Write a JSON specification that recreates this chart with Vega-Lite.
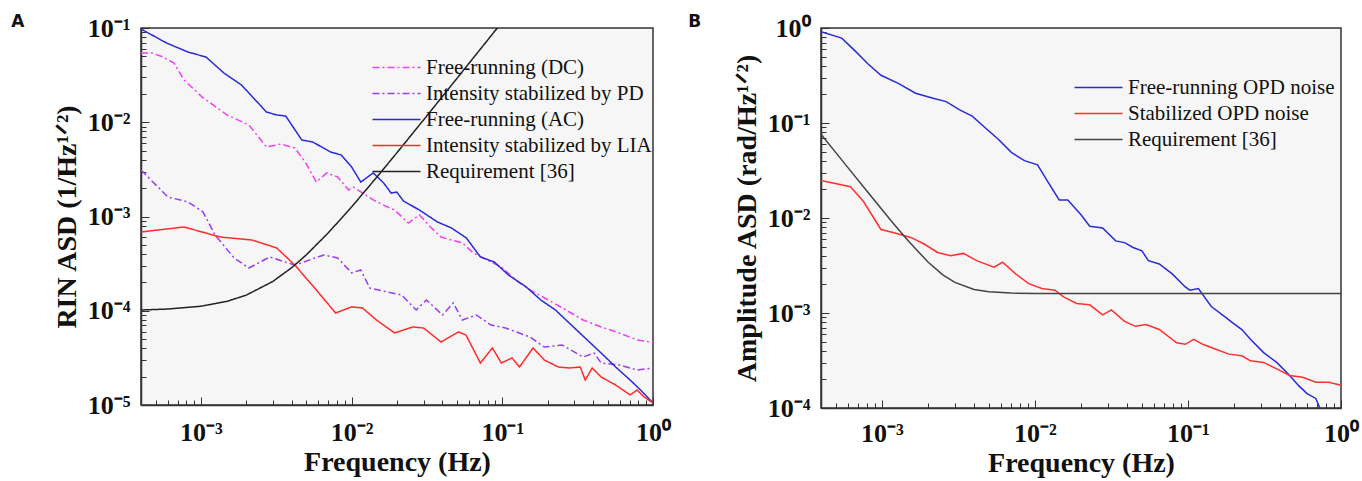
{
  "$schema": "https://vega.github.io/schema/vega-lite/v6.json",
  "background": "white",
  "padding": {"left": 10, "top": 12, "right": 4, "bottom": 0},
  "spacing": 15,
  "config": {
    "view": {"stroke": "#333333", "strokeWidth": 1.5, "fill": "#f6f6f6"},
    "axis": {
      "grid": false,
      "domainColor": "#333333",
      "domainWidth": 1.5,
      "tickColor": "#333333",
      "tickWidth": 1,
      "labelFont": "Liberation Serif",
      "labelFontWeight": "bold",
      "labelFontSize": 26,
      "labelColor": "#111111",
      "labelFlush": false,
      "labelOverlap": false,
      "titleFont": "Liberation Serif",
      "titleFontWeight": "bold",
      "titleFontSize": 28,
      "titleColor": "#111111"
    },
    "legend": {
      "labelFont": "Liberation Serif",
      "labelFontSize": 21,
      "labelColor": "#111111",
      "labelLimit": 400,
      "symbolType": "M-1,0H5",
      "symbolSize": 256,
      "symbolStrokeWidth": 1.6,
      "labelOffset": 35,
      "padding": 0
    },
    "title": {"font": "DejaVu Sans", "fontSize": 17, "fontWeight": "bold", "color": "#111111"}
  },
  "resolve": {"scale": {"color": "independent", "strokeDash": "independent", "x": "independent", "y": "independent"}},
  "datasets": {
    "A": [
      {"s": "Free-running (DC)", "f": 0.0004, "v": 0.0543},
      {"s": "Free-running (DC)", "f": 0.000473, "v": 0.0543},
      {"s": "Free-running (DC)", "f": 0.00056, "v": 0.0492},
      {"s": "Free-running (DC)", "f": 0.000662, "v": 0.0425},
      {"s": "Free-running (DC)", "f": 0.000771, "v": 0.0281},
      {"s": "Free-running (DC)", "f": 0.00102, "v": 0.0185},
      {"s": "Free-running (DC)", "f": 0.00149, "v": 0.01194},
      {"s": "Free-running (DC)", "f": 0.00208, "v": 0.00935},
      {"s": "Free-running (DC)", "f": 0.00272, "v": 0.00546},
      {"s": "Free-running (DC)", "f": 0.00339, "v": 0.00587},
      {"s": "Free-running (DC)", "f": 0.0042, "v": 0.00533},
      {"s": "Free-running (DC)", "f": 0.00496, "v": 0.0037},
      {"s": "Free-running (DC)", "f": 0.00583, "v": 0.00232},
      {"s": "Free-running (DC)", "f": 0.00683, "v": 0.0029},
      {"s": "Free-running (DC)", "f": 0.00807, "v": 0.00263},
      {"s": "Free-running (DC)", "f": 0.00955, "v": 0.00191},
      {"s": "Free-running (DC)", "f": 0.0103, "v": 0.00205},
      {"s": "Free-running (DC)", "f": 0.0139, "v": 0.0015},
      {"s": "Free-running (DC)", "f": 0.0163, "v": 0.00132},
      {"s": "Free-running (DC)", "f": 0.0193, "v": 0.00117},
      {"s": "Free-running (DC)", "f": 0.0238, "v": 0.000853},
      {"s": "Free-running (DC)", "f": 0.0282, "v": 0.00104},
      {"s": "Free-running (DC)", "f": 0.0333, "v": 0.000774},
      {"s": "Free-running (DC)", "f": 0.0392, "v": 0.000606},
      {"s": "Free-running (DC)", "f": 0.0459, "v": 0.000563},
      {"s": "Free-running (DC)", "f": 0.0543, "v": 0.000524},
      {"s": "Free-running (DC)", "f": 0.0643, "v": 0.00041},
      {"s": "Free-running (DC)", "f": 0.0796, "v": 0.000345},
      {"s": "Free-running (DC)", "f": 0.0985, "v": 0.000291},
      {"s": "Free-running (DC)", "f": 0.123, "v": 0.000212},
      {"s": "Free-running (DC)", "f": 0.153, "v": 0.000166},
      {"s": "Free-running (DC)", "f": 0.202, "v": 0.00013},
      {"s": "Free-running (DC)", "f": 0.264, "v": 0.000102},
      {"s": "Free-running (DC)", "f": 0.344, "v": 0.0000798},
      {"s": "Free-running (DC)", "f": 0.453, "v": 0.0000673},
      {"s": "Free-running (DC)", "f": 0.596, "v": 0.0000581},
      {"s": "Free-running (DC)", "f": 0.784, "v": 0.000049},
      {"s": "Free-running (DC)", "f": 1.0, "v": 0.000046},

      {"s": "Intensity stabilized by PD", "f": 0.0004, "v": 0.00311},
      {"s": "Intensity stabilized by PD", "f": 0.000604, "v": 0.00161},
      {"s": "Intensity stabilized by PD", "f": 0.00082, "v": 0.00143},
      {"s": "Intensity stabilized by PD", "f": 0.00103, "v": 0.00112},
      {"s": "Intensity stabilized by PD", "f": 0.00124, "v": 0.000637},
      {"s": "Intensity stabilized by PD", "f": 0.00166, "v": 0.000363},
      {"s": "Intensity stabilized by PD", "f": 0.00208, "v": 0.000284},
      {"s": "Intensity stabilized by PD", "f": 0.00286, "v": 0.000372},
      {"s": "Intensity stabilized by PD", "f": 0.0042, "v": 0.000305},
      {"s": "Intensity stabilized by PD", "f": 0.00653, "v": 0.000391},
      {"s": "Intensity stabilized by PD", "f": 0.00807, "v": 0.000363},
      {"s": "Intensity stabilized by PD", "f": 0.01, "v": 0.000252},
      {"s": "Intensity stabilized by PD", "f": 0.0115, "v": 0.000271},
      {"s": "Intensity stabilized by PD", "f": 0.0132, "v": 0.000174},
      {"s": "Intensity stabilized by PD", "f": 0.0173, "v": 0.000158},
      {"s": "Intensity stabilized by PD", "f": 0.0214, "v": 0.000147},
      {"s": "Intensity stabilized by PD", "f": 0.0268, "v": 0.000102},
      {"s": "Intensity stabilized by PD", "f": 0.0314, "v": 0.00013},
      {"s": "Intensity stabilized by PD", "f": 0.0401, "v": 0.0000902},
      {"s": "Intensity stabilized by PD", "f": 0.0473, "v": 0.000121},
      {"s": "Intensity stabilized by PD", "f": 0.0543, "v": 0.0000798},
      {"s": "Intensity stabilized by PD", "f": 0.0673, "v": 0.0000902},
      {"s": "Intensity stabilized by PD", "f": 0.0841, "v": 0.0000706},
      {"s": "Intensity stabilized by PD", "f": 0.105, "v": 0.0000656},
      {"s": "Intensity stabilized by PD", "f": 0.153, "v": 0.0000526},
      {"s": "Intensity stabilized by PD", "f": 0.19, "v": 0.0000412},
      {"s": "Intensity stabilized by PD", "f": 0.249, "v": 0.0000433},
      {"s": "Intensity stabilized by PD", "f": 0.344, "v": 0.0000323},
      {"s": "Intensity stabilized by PD", "f": 0.406, "v": 0.0000356},
      {"s": "Intensity stabilized by PD", "f": 0.453, "v": 0.0000279},
      {"s": "Intensity stabilized by PD", "f": 0.596, "v": 0.0000266},
      {"s": "Intensity stabilized by PD", "f": 0.784, "v": 0.0000235},
      {"s": "Intensity stabilized by PD", "f": 1.0, "v": 0.0000247},

      {"s": "Free-running (AC)", "f": 0.0004, "v": 0.0975},
      {"s": "Free-running (AC)", "f": 0.000591, "v": 0.0693},
      {"s": "Free-running (AC)", "f": 0.00082, "v": 0.0556},
      {"s": "Free-running (AC)", "f": 0.00108, "v": 0.0492},
      {"s": "Free-running (AC)", "f": 0.00142, "v": 0.0333},
      {"s": "Free-running (AC)", "f": 0.00186, "v": 0.0248},
      {"s": "Free-running (AC)", "f": 0.00272, "v": 0.01285},
      {"s": "Free-running (AC)", "f": 0.00318, "v": 0.01194},
      {"s": "Free-running (AC)", "f": 0.00365, "v": 0.01165},
      {"s": "Free-running (AC)", "f": 0.00467, "v": 0.00648},
      {"s": "Free-running (AC)", "f": 0.00552, "v": 0.00617},
      {"s": "Free-running (AC)", "f": 0.00726, "v": 0.00483},
      {"s": "Free-running (AC)", "f": 0.00853, "v": 0.00449},
      {"s": "Free-running (AC)", "f": 0.01, "v": 0.00335},
      {"s": "Free-running (AC)", "f": 0.0115, "v": 0.00232},
      {"s": "Free-running (AC)", "f": 0.0139, "v": 0.0029},
      {"s": "Free-running (AC)", "f": 0.0163, "v": 0.00227},
      {"s": "Free-running (AC)", "f": 0.0183, "v": 0.00177},
      {"s": "Free-running (AC)", "f": 0.0199, "v": 0.00182},
      {"s": "Free-running (AC)", "f": 0.0221, "v": 0.00146},
      {"s": "Free-running (AC)", "f": 0.0282, "v": 0.00117},
      {"s": "Free-running (AC)", "f": 0.0371, "v": 0.000875},
      {"s": "Free-running (AC)", "f": 0.046, "v": 0.000755},
      {"s": "Free-running (AC)", "f": 0.0578, "v": 0.000591},
      {"s": "Free-running (AC)", "f": 0.0715, "v": 0.000372},
      {"s": "Free-running (AC)", "f": 0.0885, "v": 0.000329},
      {"s": "Free-running (AC)", "f": 0.11, "v": 0.000239},
      {"s": "Free-running (AC)", "f": 0.144, "v": 0.000179},
      {"s": "Free-running (AC)", "f": 0.18, "v": 0.00013},
      {"s": "Free-running (AC)", "f": 0.225, "v": 0.000102},
      {"s": "Free-running (AC)", "f": 0.278, "v": 0.0000741},
      {"s": "Free-running (AC)", "f": 0.366, "v": 0.000049},
      {"s": "Free-running (AC)", "f": 0.453, "v": 0.0000356},
      {"s": "Free-running (AC)", "f": 0.565, "v": 0.0000253},
      {"s": "Free-running (AC)", "f": 0.705, "v": 0.0000184},
      {"s": "Free-running (AC)", "f": 0.828, "v": 0.0000144},
      {"s": "Free-running (AC)", "f": 1.0, "v": 0.0000105},

      {"s": "Intensity stabilized by LIA", "f": 0.0004, "v": 0.000685},
      {"s": "Intensity stabilized by LIA", "f": 0.000771, "v": 0.000774},
      {"s": "Intensity stabilized by LIA", "f": 0.00134, "v": 0.000606},
      {"s": "Intensity stabilized by LIA", "f": 0.00218, "v": 0.000563},
      {"s": "Intensity stabilized by LIA", "f": 0.00318, "v": 0.000464},
      {"s": "Intensity stabilized by LIA", "f": 0.0042, "v": 0.000305},
      {"s": "Intensity stabilized by LIA", "f": 0.00583, "v": 0.000166},
      {"s": "Intensity stabilized by LIA", "f": 0.00783, "v": 0.0000946},
      {"s": "Intensity stabilized by LIA", "f": 0.01, "v": 0.00011},
      {"s": "Intensity stabilized by LIA", "f": 0.0118, "v": 0.000107},
      {"s": "Intensity stabilized by LIA", "f": 0.0146, "v": 0.0000798},
      {"s": "Intensity stabilized by LIA", "f": 0.0193, "v": 0.0000581},
      {"s": "Intensity stabilized by LIA", "f": 0.0254, "v": 0.0000673},
      {"s": "Intensity stabilized by LIA", "f": 0.03, "v": 0.0000656},
      {"s": "Intensity stabilized by LIA", "f": 0.0392, "v": 0.0000466},
      {"s": "Intensity stabilized by LIA", "f": 0.0512, "v": 0.0000595},
      {"s": "Intensity stabilized by LIA", "f": 0.0574, "v": 0.0000553},
      {"s": "Intensity stabilized by LIA", "f": 0.0715, "v": 0.0000279},
      {"s": "Intensity stabilized by LIA", "f": 0.0859, "v": 0.0000403},
      {"s": "Intensity stabilized by LIA", "f": 0.0985, "v": 0.0000279},
      {"s": "Intensity stabilized by LIA", "f": 0.116, "v": 0.0000316},
      {"s": "Intensity stabilized by LIA", "f": 0.13, "v": 0.0000253},
      {"s": "Intensity stabilized by LIA", "f": 0.16, "v": 0.0000403},
      {"s": "Intensity stabilized by LIA", "f": 0.19, "v": 0.00003},
      {"s": "Intensity stabilized by LIA", "f": 0.235, "v": 0.0000253},
      {"s": "Intensity stabilized by LIA", "f": 0.278, "v": 0.0000247},
      {"s": "Intensity stabilized by LIA", "f": 0.329, "v": 0.0000253},
      {"s": "Intensity stabilized by LIA", "f": 0.355, "v": 0.0000184},
      {"s": "Intensity stabilized by LIA", "f": 0.395, "v": 0.0000247},
      {"s": "Intensity stabilized by LIA", "f": 0.453, "v": 0.0000198},
      {"s": "Intensity stabilized by LIA", "f": 0.565, "v": 0.0000163},
      {"s": "Intensity stabilized by LIA", "f": 0.705, "v": 0.0000128},
      {"s": "Intensity stabilized by LIA", "f": 0.784, "v": 0.0000144},
      {"s": "Intensity stabilized by LIA", "f": 0.871, "v": 0.0000122},
      {"s": "Intensity stabilized by LIA", "f": 1.0, "v": 0.0000105},

      {"s": "Requirement [36]", "f": 0.0004, "v": 0.0001019},
      {"s": "Requirement [36]", "f": 0.0006, "v": 0.0001042},
      {"s": "Requirement [36]", "f": 0.001, "v": 0.0001117},
      {"s": "Requirement [36]", "f": 0.0015, "v": 0.0001262},
      {"s": "Requirement [36]", "f": 0.002, "v": 0.0001466},
      {"s": "Requirement [36]", "f": 0.003, "v": 0.0002048},
      {"s": "Requirement [36]", "f": 0.004, "v": 0.0002864},
      {"s": "Requirement [36]", "f": 0.005, "v": 0.0003912},
      {"s": "Requirement [36]", "f": 0.007, "v": 0.0006708},
      {"s": "Requirement [36]", "f": 0.01, "v": 0.001265},
      {"s": "Requirement [36]", "f": 0.015, "v": 0.002721},
      {"s": "Requirement [36]", "f": 0.02, "v": 0.004759},
      {"s": "Requirement [36]", "f": 0.03, "v": 0.01058},
      {"s": "Requirement [36]", "f": 0.05, "v": 0.02922},
      {"s": "Requirement [36]", "f": 0.07, "v": 0.05718},
      {"s": "Requirement [36]", "f": 0.1, "v": 0.1165}
    ],
    "B": [
      {"s": "Free-running OPD noise", "f": 0.0004, "v": 0.916},
      {"s": "Free-running OPD noise", "f": 0.000547, "v": 0.782},
      {"s": "Free-running OPD noise", "f": 0.000665, "v": 0.578},
      {"s": "Free-running OPD noise", "f": 0.000809, "v": 0.421},
      {"s": "Free-running OPD noise", "f": 0.000986, "v": 0.318},
      {"s": "Free-running OPD noise", "f": 0.00128, "v": 0.261},
      {"s": "Free-running OPD noise", "f": 0.00166, "v": 0.206},
      {"s": "Free-running OPD noise", "f": 0.00216, "v": 0.182},
      {"s": "Free-running OPD noise", "f": 0.00263, "v": 0.168},
      {"s": "Free-running OPD noise", "f": 0.0032, "v": 0.138},
      {"s": "Free-running OPD noise", "f": 0.00389, "v": 0.118},
      {"s": "Free-running OPD noise", "f": 0.00473, "v": 0.0891},
      {"s": "Free-running OPD noise", "f": 0.00576, "v": 0.0675},
      {"s": "Free-running OPD noise", "f": 0.00701, "v": 0.0491},
      {"s": "Free-running OPD noise", "f": 0.00854, "v": 0.0402},
      {"s": "Free-running OPD noise", "f": 0.0104, "v": 0.0363},
      {"s": "Free-running OPD noise", "f": 0.0118, "v": 0.026},
      {"s": "Free-running OPD noise", "f": 0.0144, "v": 0.0155},
      {"s": "Free-running OPD noise", "f": 0.0164, "v": 0.0155},
      {"s": "Free-running OPD noise", "f": 0.02, "v": 0.0108},
      {"s": "Free-running OPD noise", "f": 0.0228, "v": 0.0082},
      {"s": "Free-running OPD noise", "f": 0.0277, "v": 0.00787},
      {"s": "Free-running OPD noise", "f": 0.0337, "v": 0.00574},
      {"s": "Free-running OPD noise", "f": 0.0385, "v": 0.00551},
      {"s": "Free-running OPD noise", "f": 0.0438, "v": 0.00489},
      {"s": "Free-running OPD noise", "f": 0.05, "v": 0.00452},
      {"s": "Free-running OPD noise", "f": 0.0551, "v": 0.00356},
      {"s": "Free-running OPD noise", "f": 0.0649, "v": 0.00328},
      {"s": "Free-running OPD noise", "f": 0.0789, "v": 0.00258},
      {"s": "Free-running OPD noise", "f": 0.096, "v": 0.00188},
      {"s": "Free-running OPD noise", "f": 0.103, "v": 0.00174},
      {"s": "Free-running OPD noise", "f": 0.117, "v": 0.00181},
      {"s": "Free-running OPD noise", "f": 0.142, "v": 0.00117},
      {"s": "Free-running OPD noise", "f": 0.173, "v": 0.00092},
      {"s": "Free-running OPD noise", "f": 0.197, "v": 0.000784},
      {"s": "Free-running OPD noise", "f": 0.225, "v": 0.00067},
      {"s": "Free-running OPD noise", "f": 0.256, "v": 0.000528},
      {"s": "Free-running OPD noise", "f": 0.312, "v": 0.000383},
      {"s": "Free-running OPD noise", "f": 0.38, "v": 0.000302},
      {"s": "Free-running OPD noise", "f": 0.462, "v": 0.00022},
      {"s": "Free-running OPD noise", "f": 0.527, "v": 0.000173},
      {"s": "Free-running OPD noise", "f": 0.6, "v": 0.000142},
      {"s": "Free-running OPD noise", "f": 0.684, "v": 0.000126},
      {"s": "Free-running OPD noise", "f": 0.73, "v": 0.000099},

      {"s": "Stabilized OPD noise", "f": 0.0004, "v": 0.0249},
      {"s": "Stabilized OPD noise", "f": 0.000623, "v": 0.0213},
      {"s": "Stabilized OPD noise", "f": 0.000758, "v": 0.0149},
      {"s": "Stabilized OPD noise", "f": 0.000986, "v": 0.00757},
      {"s": "Stabilized OPD noise", "f": 0.0012, "v": 0.007},
      {"s": "Stabilized OPD noise", "f": 0.00156, "v": 0.00621},
      {"s": "Stabilized OPD noise", "f": 0.0019, "v": 0.00529},
      {"s": "Stabilized OPD noise", "f": 0.00231, "v": 0.00434},
      {"s": "Stabilized OPD noise", "f": 0.00281, "v": 0.00401},
      {"s": "Stabilized OPD noise", "f": 0.00341, "v": 0.00424},
      {"s": "Stabilized OPD noise", "f": 0.00416, "v": 0.00356},
      {"s": "Stabilized OPD noise", "f": 0.0054, "v": 0.00303},
      {"s": "Stabilized OPD noise", "f": 0.00615, "v": 0.00342},
      {"s": "Stabilized OPD noise", "f": 0.00748, "v": 0.00258},
      {"s": "Stabilized OPD noise", "f": 0.0091, "v": 0.00204},
      {"s": "Stabilized OPD noise", "f": 0.0111, "v": 0.00181},
      {"s": "Stabilized OPD noise", "f": 0.0135, "v": 0.00174},
      {"s": "Stabilized OPD noise", "f": 0.0154, "v": 0.00148},
      {"s": "Stabilized OPD noise", "f": 0.0187, "v": 0.00126},
      {"s": "Stabilized OPD noise", "f": 0.0228, "v": 0.00122},
      {"s": "Stabilized OPD noise", "f": 0.0277, "v": 0.000957},
      {"s": "Stabilized OPD noise", "f": 0.0316, "v": 0.00108},
      {"s": "Stabilized OPD noise", "f": 0.0385, "v": 0.000817},
      {"s": "Stabilized OPD noise", "f": 0.0453, "v": 0.000724},
      {"s": "Stabilized OPD noise", "f": 0.0533, "v": 0.000755},
      {"s": "Stabilized OPD noise", "f": 0.0649, "v": 0.00067},
      {"s": "Stabilized OPD noise", "f": 0.0843, "v": 0.000486},
      {"s": "Stabilized OPD noise", "f": 0.096, "v": 0.000468},
      {"s": "Stabilized OPD noise", "f": 0.109, "v": 0.000528},
      {"s": "Stabilized OPD noise", "f": 0.125, "v": 0.000468},
      {"s": "Stabilized OPD noise", "f": 0.152, "v": 0.000416},
      {"s": "Stabilized OPD noise", "f": 0.185, "v": 0.000369},
      {"s": "Stabilized OPD noise", "f": 0.225, "v": 0.000354},
      {"s": "Stabilized OPD noise", "f": 0.256, "v": 0.000314},
      {"s": "Stabilized OPD noise", "f": 0.312, "v": 0.000302},
      {"s": "Stabilized OPD noise", "f": 0.38, "v": 0.000258},
      {"s": "Stabilized OPD noise", "f": 0.462, "v": 0.00022},
      {"s": "Stabilized OPD noise", "f": 0.562, "v": 0.000211},
      {"s": "Stabilized OPD noise", "f": 0.684, "v": 0.000187},
      {"s": "Stabilized OPD noise", "f": 0.832, "v": 0.000187},
      {"s": "Stabilized OPD noise", "f": 1.0, "v": 0.000173},

      {"s": "Requirement [36]", "f": 0.0004, "v": 0.0762},
      {"s": "Requirement [36]", "f": 0.0005, "v": 0.0488},
      {"s": "Requirement [36]", "f": 0.0006, "v": 0.0339},
      {"s": "Requirement [36]", "f": 0.0008, "v": 0.0191},
      {"s": "Requirement [36]", "f": 0.001, "v": 0.01229},
      {"s": "Requirement [36]", "f": 0.0012, "v": 0.00861},
      {"s": "Requirement [36]", "f": 0.0015, "v": 0.00565},
      {"s": "Requirement [36]", "f": 0.002, "v": 0.00344},
      {"s": "Requirement [36]", "f": 0.0025, "v": 0.00252},
      {"s": "Requirement [36]", "f": 0.003, "v": 0.0021},
      {"s": "Requirement [36]", "f": 0.004, "v": 0.00177},
      {"s": "Requirement [36]", "f": 0.005, "v": 0.00167},
      {"s": "Requirement [36]", "f": 0.007, "v": 0.00162},
      {"s": "Requirement [36]", "f": 0.01, "v": 0.001605},
      {"s": "Requirement [36]", "f": 0.02, "v": 0.0016},
      {"s": "Requirement [36]", "f": 1.0, "v": 0.0016}
    ]
  },
  "hconcat": [
    {
      "width": 512,
      "height": 377,
      "title": {"text": "A", "anchor": "start", "frame": "bounds", "baseline": "top", "offset": 0, "dx": -42, "dy": 16},
      "data": {"name": "A"},
      "mark": {"type": "line", "clip": true, "strokeWidth": 1.5},
      "encoding": {
        "x": {
          "field": "f", "type": "quantitative",
          "scale": {"type": "log", "domain": [0.0004, 1]},
          "axis": {
            "title": "Frequency (Hz)",
            "values": [0.0005,0.0006,0.0007,0.0008,0.0009,0.001,0.002,0.003,0.004,0.005,0.006,0.007,0.008,0.009,0.01,0.02,0.03,0.04,0.05,0.06,0.07,0.08,0.09,0.1,0.2,0.3,0.4,0.5,0.6,0.7,0.8,0.9,1],
            "labelExpr": "datum.value === 0.001 ? '10⁻³' : datum.value === 0.01 ? '10⁻²' : datum.value === 0.1 ? '10⁻¹' : datum.value === 1 ? '10⁰' : ''",
            "tickSize": {"condition": {"test": "indexof([0.001,0.01,0.1,1], datum.value) >= 0", "value": -8}, "value": -5},
            "labelPadding": 22,
            "titlePadding": 0
          }
        },
        "y": {
          "field": "v", "type": "quantitative",
          "scale": {"type": "log", "domain": [0.00001, 0.1]},
          "axis": {
            "title": "RIN ASD (1/Hz¹ᐟ²)",
            "values": [0.00001,0.00002,0.00003,0.00004,0.00005,0.00006,0.00007,0.00008,0.00009,0.0001,0.0002,0.0003,0.0004,0.0005,0.0006,0.0007,0.0008,0.0009,0.001,0.002,0.003,0.004,0.005,0.006,0.007,0.008,0.009,0.01,0.02,0.03,0.04,0.05,0.06,0.07,0.08,0.09,0.1],
            "labelExpr": "datum.value === 0.00001 ? '10⁻⁵' : datum.value === 0.0001 ? '10⁻⁴' : datum.value === 0.001 ? '10⁻³' : datum.value === 0.01 ? '10⁻²' : datum.value === 0.1 ? '10⁻¹' : ''",
            "tickSize": {"condition": {"test": "indexof([0.00001,0.0001,0.001,0.01,0.1], datum.value) >= 0", "value": -8}, "value": -5},
            "labelPadding": 19,
            "titlePadding": 6
          }
        },
        "color": {
          "field": "s", "type": "nominal",
          "scale": {
            "domain": ["Free-running (DC)", "Intensity stabilized by PD", "Free-running (AC)", "Intensity stabilized by LIA", "Requirement [36]"],
            "range": ["#f040f0", "#9a3cf0", "#2b2bd6", "#ff2a2a", "#222222"]
          },
          "legend": {"title": null, "orient": "none", "legendX": 229, "legendY": 29, "rowPadding": 4}
        },
        "strokeDash": {
          "field": "s", "type": "nominal",
          "scale": {
            "domain": ["Free-running (DC)", "Intensity stabilized by PD", "Free-running (AC)", "Intensity stabilized by LIA", "Requirement [36]"],
            "range": [[7, 3, 2, 3], [7, 3, 2, 3], [1, 0], [1, 0], [1, 0]]
          },
          "legend": {"title": null, "orient": "none", "legendX": 229, "legendY": 29, "rowPadding": 4}
        }
      }
    },
    {
      "width": 520,
      "height": 380,
      "title": {"text": "B", "anchor": "start", "frame": "bounds", "baseline": "top", "offset": 0, "dx": -45, "dy": 16},
      "data": {"name": "B"},
      "mark": {"type": "line", "clip": true, "strokeWidth": 1.5},
      "encoding": {
        "x": {
          "field": "f", "type": "quantitative",
          "scale": {"type": "log", "domain": [0.0004, 1]},
          "axis": {
            "title": "Frequency (Hz)",
            "values": [0.0005,0.0006,0.0007,0.0008,0.0009,0.001,0.002,0.003,0.004,0.005,0.006,0.007,0.008,0.009,0.01,0.02,0.03,0.04,0.05,0.06,0.07,0.08,0.09,0.1,0.2,0.3,0.4,0.5,0.6,0.7,0.8,0.9,1],
            "labelExpr": "datum.value === 0.001 ? '10⁻³' : datum.value === 0.01 ? '10⁻²' : datum.value === 0.1 ? '10⁻¹' : datum.value === 1 ? '10⁰' : ''",
            "tickSize": {"condition": {"test": "indexof([0.001,0.01,0.1,1], datum.value) >= 0", "value": -8}, "value": -5},
            "labelPadding": 20,
            "titlePadding": 0
          }
        },
        "y": {
          "field": "v", "type": "quantitative",
          "scale": {"type": "log", "domain": [0.0001, 1]},
          "axis": {
            "title": "Amplitude ASD (rad/Hz¹ᐟ²)",
            "values": [0.0001,0.0002,0.0003,0.0004,0.0005,0.0006,0.0007,0.0008,0.0009,0.001,0.002,0.003,0.004,0.005,0.006,0.007,0.008,0.009,0.01,0.02,0.03,0.04,0.05,0.06,0.07,0.08,0.09,0.1,0.2,0.3,0.4,0.5,0.6,0.7,0.8,0.9,1],
            "labelExpr": "datum.value === 0.0001 ? '10⁻⁴' : datum.value === 0.001 ? '10⁻³' : datum.value === 0.01 ? '10⁻²' : datum.value === 0.1 ? '10⁻¹' : datum.value === 1 ? '10⁰' : ''",
            "tickSize": {"condition": {"test": "indexof([0.0001,0.001,0.01,0.1,1], datum.value) >= 0", "value": -8}, "value": -5},
            "labelPadding": 19,
            "titlePadding": 6
          }
        },
        "color": {
          "field": "s", "type": "nominal",
          "scale": {
            "domain": ["Free-running OPD noise", "Stabilized OPD noise", "Requirement [36]"],
            "range": ["#2b2bd6", "#ff3030", "#444444"]
          },
          "legend": {"title": null, "orient": "none", "legendX": 251, "legendY": 49, "rowPadding": 4}
        }
      }
    }
  ]
}
